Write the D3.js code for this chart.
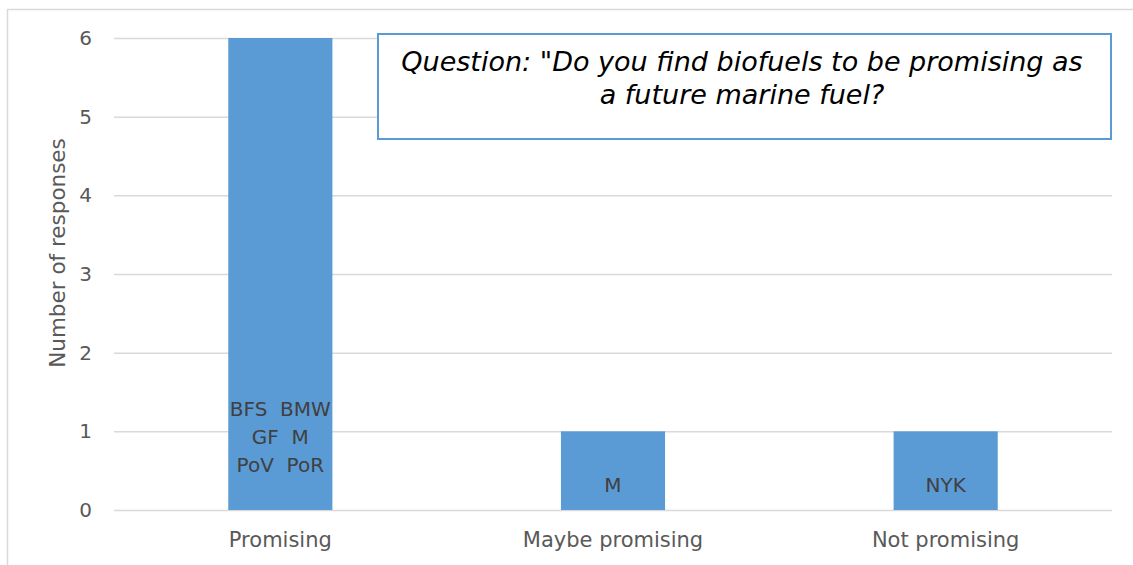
<!DOCTYPE html>
<html>
<head>
<meta charset="utf-8">
<script src="https://cdn.jsdelivr.net/npm/d3@7"></script>
<style>
  body { margin: 0; background: #fff; }
  text { font-family: "DejaVu Sans", sans-serif; }
</style>
</head>
<body>
<script>
// chart values
var categories = ["Promising", "Maybe promising", "Not promising"];
var responses = [6, 1, 1];
var respondents = [
  ["BFS  BMW", "GF  M", "PoV  PoR"],
  ["M"],
  ["NYK"]
];
var yTicks = [0, 1, 2, 3, 4, 5, 6];
var question = ["Question: \"Do you find biofuels to be promising as", "a future marine fuel?"];

var width = 1133, height = 565;
var margin = { top: 38, right: 21, bottom: 55, left: 114 };

var svg = d3.select("body").append("svg")
  .attr("width", width)
  .attr("height", height);

// outer frame
svg.append("rect")
  .attr("x", 7.5).attr("y", 9.5)
  .attr("width", width).attr("height", height)
  .style("fill", "none")
  .style("stroke", "#d9d9d9")
  .style("stroke-width", 1.5);

var x = d3.scaleBand()
  .domain(categories)
  .range([margin.left, width - margin.right])
  .paddingInner(0.687)
  .paddingOuter(0.3435);

var y = d3.scaleLinear()
  .domain([0, 6])
  .range([height - margin.bottom, margin.top]);

// gridlines
svg.append("g")
  .attr("transform", "translate(" + margin.left + ",0)")
  .call(d3.axisLeft(y).tickValues(yTicks).tickSize(-(width - margin.right - margin.left)).tickFormat(""))
  .call(function(g) { g.select(".domain").remove(); })
  .selectAll("line")
  .style("stroke", "#d9d9d9")
  .style("stroke-width", 1.5);

// y tick labels
svg.append("g")
  .attr("transform", "translate(" + margin.left + ",0)")
  .call(d3.axisLeft(y).tickValues(yTicks).tickSize(0).tickPadding(22).tickFormat(d3.format("d")))
  .call(function(g) { g.select(".domain").remove(); })
  .selectAll("text")
  .style("font-size", "20px")
  .style("fill", "#595959");

// bars
svg.selectAll("rect.bar")
  .data(responses)
  .enter()
  .append("rect")
  .attr("class", "bar")
  .attr("x", function(d, i) { return x(categories[i]); })
  .attr("y", function(d) { return y(d); })
  .attr("width", x.bandwidth())
  .attr("height", function(d) { return y(0) - y(d); })
  .style("fill", "#5b9bd5");

// respondent labels inside bars
respondents.forEach(function(lines, i) {
  var cx = x(categories[i]) + x.bandwidth() / 2;
  var base = lines.length > 1 ? 416 : 492;
  svg.append("text")
    .attr("x", cx)
    .attr("text-anchor", "middle")
    .attr("xml:space", "preserve")
    .style("font-size", "20px")
    .style("fill", "#404040")
    .selectAll("tspan")
    .data(lines)
    .enter()
    .append("tspan")
    .attr("x", cx)
    .attr("y", function(d, j) { return base + j * 28; })
    .text(function(d) { return d; });
});

// x axis labels
svg.append("g")
  .attr("transform", "translate(0," + y(0) + ")")
  .call(d3.axisBottom(x).tickSize(0).tickPadding(22))
  .call(function(g) { g.select(".domain").remove(); })
  .selectAll("text")
  .style("font-size", "21px")
  .style("fill", "#595959");

// y axis title
svg.append("text")
  .attr("transform", "translate(65,253) rotate(-90)")
  .attr("text-anchor", "middle")
  .style("font-size", "21.5px")
  .style("fill", "#595959")
  .text("Number of responses");

// question box
svg.append("rect")
  .attr("x", 378).attr("y", 34)
  .attr("width", 733).attr("height", 105)
  .style("fill", "#fff")
  .style("stroke", "#5b9bd5")
  .style("stroke-width", 2);

svg.append("g").selectAll("text")
  .data(question)
  .enter()
  .append("text")
  .attr("x", 742)
  .attr("y", function(d, i) { return 71 + i * 33; })
  .attr("text-anchor", "middle")
  .style("font-size", "27px")
  .style("font-style", "italic")
  .style("fill", "#000")
  .text(function(d) { return d; });
</script>
</body>
</html>
